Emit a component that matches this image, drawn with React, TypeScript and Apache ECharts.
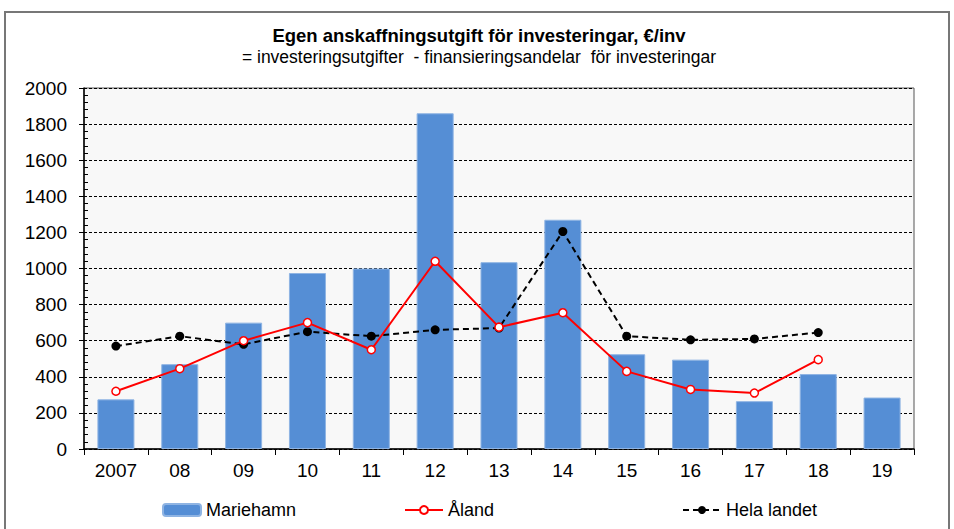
import React, { useEffect, useRef } from "react";
import * as echarts from "echarts";

const categories = ["2007", "08", "09", "10", "11", "12", "13", "14", "15", "16", "17", "18", "19"];
const mariehamn = [275, 470, 700, 975, 1000, 1860, 1035, 1270, 525, 495, 265, 415, 285];
const aland = [320, 445, 600, 700, 550, 1040, 675, 755, 430, 330, 310, 495, null];
const helaLandet = [570, 625, 580, 650, 625, 660, 670, 1205, 625, 605, 610, 645, null];
const yTicks = { min: 0, max: 2000, interval: 200 };

const FONT = "'Liberation Sans', Arial, sans-serif";

export default function App() {
  const ref = useRef<HTMLDivElement>(null);
  useEffect(() => {
    if (!ref.current) return;
    const chart = echarts.init(ref.current, null, { renderer: "svg" });
    const legendText = { fontFamily: FONT, fontSize: 18, color: "#000" };
    chart.setOption({
      animation: false,
      backgroundColor: "#fff",
      textStyle: { fontFamily: FONT },
      graphic: [
        {
          type: "rect",
          shape: { x: 5, y: 12, width: 944, height: 530 },
          style: { fill: "none", stroke: "#777", lineWidth: 2 },
          silent: true,
          z: -1,
        },
      ],
      title: {
        text: "Egen anskaffningsutgift för investeringar, €/inv",
        subtext: "= investeringsutgifter  - finansieringsandelar  för investeringar",
        left: 474,
        textAlign: "center",
        top: 21,
        itemGap: 3,
        textStyle: { fontFamily: FONT, fontSize: 18.5, fontWeight: "bold", color: "#000" },
        subtextStyle: { fontFamily: FONT, fontSize: 17.5, color: "#000" },
      },
      legend: [
        {
          data: ["Mariehamn"],
          left: 157,
          top: 496,
          itemWidth: 38,
          itemHeight: 12,
          itemGap: 4,
          textStyle: legendText,
        },
        {
          data: ["Åland"],
          left: 399,
          top: 496,
          itemWidth: 38,
          itemHeight: 10,
          textStyle: legendText,
        },
        {
          data: ["Hela landet"],
          left: 677,
          top: 496,
          itemWidth: 38,
          itemHeight: 10,
          textStyle: legendText,
        },
      ],
      grid: {
        left: 84,
        top: 88,
        right: 40,
        bottom: 80,
        show: true,
        backgroundColor: "#f8f8f8",
        borderColor: "#555",
        borderWidth: 1,
      },
      xAxis: {
        type: "category",
        data: categories,
        axisLine: { lineStyle: { color: "#000", width: 1.5 } },
        axisTick: { show: true, length: 6, lineStyle: { color: "#000" } },
        axisLabel: { fontFamily: FONT, fontSize: 19, color: "#000", margin: 12 },
      },
      yAxis: [
        {
          type: "value",
          min: yTicks.min,
          max: yTicks.max,
          interval: yTicks.interval,
          axisLine: { show: true, lineStyle: { color: "#000", width: 1.5 } },
          axisTick: { show: true, length: 5, lineStyle: { color: "#000" } },
          axisLabel: {
            fontFamily: FONT,
            fontSize: 19,
            color: "#000",
            margin: 17,
            formatter: (v: number) => String(v),
          },
          splitLine: { show: true, lineStyle: { color: "#000", type: [3, 2], width: 1 } },
        },
        {
          type: "value",
          position: "right",
          offset: -830,
          min: yTicks.min,
          max: yTicks.max,
          interval: yTicks.interval,
          axisLine: { show: false },
          axisTick: { show: true, length: 0, inside: false },
          minorTick: { show: true, splitNumber: 5, length: 4, lineStyle: { color: "#000" } },
          axisLabel: { show: false },
          splitLine: { show: false },
        },
      ],
      series: [
        {
          name: "Mariehamn",
          type: "bar",
          data: mariehamn,
          barCategoryGap: "42%",
          itemStyle: { color: "#558ed5", borderColor: "#8fb4e3", borderWidth: 1 },
          z: 2,
        },
        {
          name: "Åland",
          type: "line",
          data: aland,
          symbol: "circle",
          symbolSize: 8,
          lineStyle: { color: "#ff0000", width: 2 },
          itemStyle: { color: "#fff", borderColor: "#ff0000", borderWidth: 1.5 },
          z: 4,
        },
        {
          name: "Hela landet",
          type: "line",
          data: helaLandet,
          symbol: "circle",
          symbolSize: 9,
          lineStyle: { color: "#000", width: 2, type: [6, 4] },
          itemStyle: { color: "#000" },
          z: 3,
        },
      ],
    });
    return () => chart.dispose();
  }, []);
  return (
    <div
      ref={ref}
      style={{ position: "fixed", left: 0, top: 0, width: 954, height: 529 }}
    />
  );
}
